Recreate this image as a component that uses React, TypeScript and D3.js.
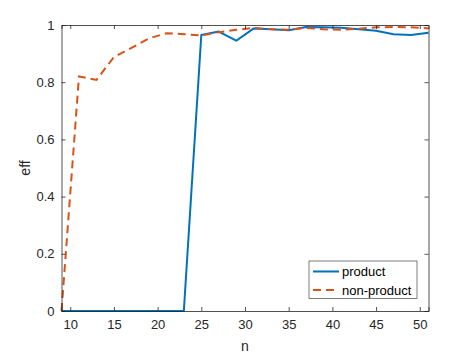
import React, { useEffect, useRef } from "react";
import * as d3 from "d3";

// n values (odd sizes 9..51)
const nValues = [9, 11, 13, 15, 17, 19, 21, 23, 25, 27, 29, 31, 33, 35, 37, 39, 41, 43, 45, 47, 49, 51];
const productEff = [0, 0, 0, 0, 0, 0, 0, 0, 0.965, 0.977, 0.945, 0.988, 0.985, 0.982, 0.993, 0.992, 0.99, 0.985, 0.98, 0.968, 0.965, 0.973];
const nonProductEff = [0, 0.82, 0.808, 0.888, 0.92, 0.953, 0.971, 0.968, 0.963, 0.975, 0.983, 0.99, 0.985, 0.983, 0.99, 0.985, 0.983, 0.987, 0.992, 0.993, 0.992, 0.988];
const xTicks = [10, 15, 20, 25, 30, 35, 40, 45, 50];
const yTicks = [0, 0.2, 0.4, 0.6, 0.8, 1];
const seriesNames = ["product", "non-product"];

const App = () => {
  const svgRef = useRef<SVGSVGElement>(null);

  useEffect(() => {
    const width = 473, height = 355;
    const margin = { top: 25, right: 44.5, bottom: 44, left: 61.5 };
    const font = "'Liberation Sans', Arial, sans-serif";
    const axisColor = "#262626";
    const dash = "8,5";

    const svg = d3.select(svgRef.current)
      .attr("width", width)
      .attr("height", height);
    svg.selectAll("*").remove();

    const x = d3.scaleLinear().domain([9, 51]).range([margin.left, width - margin.right]);
    const y = d3.scaleLinear().domain([0, 1]).range([height - margin.bottom, margin.top]);

    svg.append("rect")
      .attr("width", width).attr("height", height).attr("fill", "#fff");

    // lines
    const line = d3.line<number>()
      .x((d, i) => x(nValues[i]))
      .y(d => y(d));

    const plot = svg.append("g");
    plot.append("path")
      .datum(productEff)
      .attr("d", line)
      .attr("fill", "none")
      .attr("stroke", "#0072BD")
      .attr("stroke-width", 2)
      .attr("stroke-linejoin", "round");

    plot.append("path")
      .datum(nonProductEff)
      .attr("d", line)
      .attr("fill", "none")
      .attr("stroke", "#D95319")
      .attr("stroke-width", 2)
      .attr("stroke-dasharray", dash);

    // axes (box, inward ticks)
    const tick = 4;
    const bottom = svg.append("g")
      .attr("transform", `translate(0,${y(0)})`)
      .call(d3.axisBottom(x).tickValues(xTicks).tickSize(-tick).tickPadding(9));
    const top = svg.append("g")
      .attr("transform", `translate(0,${y(1)})`)
      .call(d3.axisTop(x).tickValues(xTicks).tickSize(-tick).tickFormat(() => ""));
    const left = svg.append("g")
      .attr("transform", `translate(${x(9)},0)`)
      .call(d3.axisLeft(y).tickValues(yTicks).tickSize(-tick).tickPadding(7).tickFormat(d3.format("")));
    const right = svg.append("g")
      .attr("transform", `translate(${x(51)},0)`)
      .call(d3.axisRight(y).tickValues(yTicks).tickSize(-tick).tickFormat(() => ""));

    [bottom, top, left, right].forEach(g => {
      g.select(".domain").attr("stroke", axisColor).attr("stroke-width", 0.8);
      g.selectAll(".tick line").attr("stroke", axisColor).attr("stroke-width", 0.8);
      g.selectAll(".tick text")
        .attr("fill", axisColor)
        .style("font-family", font)
        .style("font-size", "13px");
    });

    // axis labels
    svg.append("text")
      .attr("x", x(30))
      .attr("y", 351)
      .attr("text-anchor", "middle")
      .attr("fill", axisColor)
      .style("font-family", font)
      .style("font-size", "14px")
      .text("n");

    svg.append("text")
      .attr("transform", `translate(30,${y(0.5)}) rotate(-90)`)
      .attr("text-anchor", "middle")
      .attr("fill", axisColor)
      .style("font-family", font)
      .style("font-size", "14px")
      .text("eff");

    // legend
    const legend = svg.append("g").attr("transform", "translate(309,261)");
    legend.append("rect")
      .attr("width", 108)
      .attr("height", 37.5)
      .attr("fill", "#fff")
      .attr("stroke", axisColor)
      .attr("stroke-width", 0.6);

    const colors = ["#0072BD", "#D95319"];
    seriesNames.forEach((name, i) => {
      const ly = 10.5 + i * 18.5;
      legend.append("line")
        .attr("x1", 4).attr("x2", 30)
        .attr("y1", ly).attr("y2", ly)
        .attr("stroke", colors[i])
        .attr("stroke-width", 2)
        .attr("stroke-dasharray", i === 1 ? dash : null);
      legend.append("text")
        .attr("x", 33)
        .attr("y", ly)
        .attr("dy", "0.35em")
        .attr("fill", "#000")
        .style("font-family", font)
        .style("font-size", "13px")
        .text(name);
    });
  }, []);

  return <svg ref={svgRef} style={{ position: "absolute", left: 0, top: 0 }}></svg>;
};

export default App;
